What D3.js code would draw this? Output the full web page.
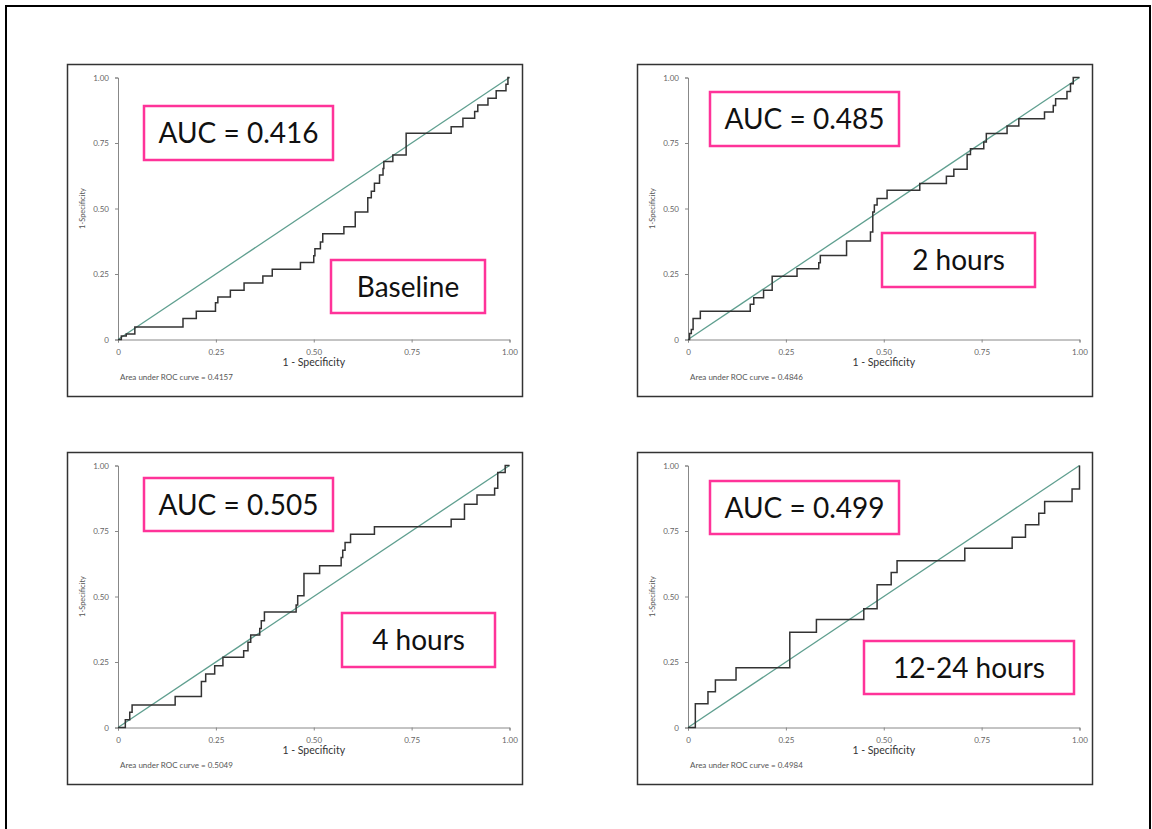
<!DOCTYPE html>
<html>
<head>
<meta charset="utf-8">
<script src="https://cdn.jsdelivr.net/npm/d3@7"></script>
<style>
  body { margin: 0; background: #fff; }
  svg { display: block; font-family: Lato, "Open Sans", sans-serif; }
</style>
</head>
<body>
<div id="chart"></div>
<script>
const W = 1152;
const H = 829;

// panel titles and AUC labels
const periods = ['Baseline', '2 hours', '4 hours', '12-24 hours'];
const aucLabels = ['AUC = 0.416', 'AUC = 0.485', 'AUC = 0.505', 'AUC = 0.499'];
const aucFooter = ['0.4157', '0.4846', '0.5049', '0.4984'];
const ticks = [0, 0.25, 0.5, 0.75, 1];
const tickLabels = ['0', '0.25', '0.50', '0.75', '1.00'];

// ROC step corners, x = 1 - specificity
const fprBaseline = [0, 0.0085, 0.021, 0.043, 0.166, 0.2, 0.249, 0.255, 0.287, 0.322, 0.37, 0.394, 0.466, 0.5, 0.503, 0.517, 0.523, 0.577, 0.606, 0.638, 0.647, 0.655, 0.668, 0.677, 0.679, 0.702, 0.736, 0.851, 0.881, 0.911, 0.919, 0.945, 0.966, 0.991, 0.996, 1];
const tprBaseline = [0, 0.013, 0.021, 0.048, 0.08, 0.108, 0.14, 0.162, 0.188, 0.216, 0.242, 0.268, 0.294, 0.32, 0.346, 0.372, 0.404, 0.43, 0.487, 0.541, 0.566, 0.596, 0.628, 0.653, 0.679, 0.704, 0.787, 0.8125, 0.844, 0.87, 0.895, 0.921, 0.949, 0.974, 1, 1];

const fpr2h = [0, 0.004, 0.0085, 0.013, 0.0315, 0.159, 0.168, 0.193, 0.215, 0.2785, 0.334, 0.338, 0.405, 0.466, 0.472, 0.476, 0.483, 0.5085, 0.592, 0.66, 0.679, 0.713, 0.7215, 0.7555, 0.762, 0.815, 0.845, 0.9106, 0.933, 0.939, 0.968, 0.977, 0.984, 1];
const tpr2h = [0, 0.023, 0.038, 0.08, 0.108, 0.1345, 0.159, 0.188, 0.241, 0.27, 0.293, 0.321, 0.376, 0.41, 0.487, 0.513, 0.538, 0.57, 0.595, 0.623, 0.65, 0.706, 0.728, 0.754, 0.786, 0.815, 0.843, 0.868, 0.893, 0.919, 0.947, 0.976, 1, 1];

const fpr4h = [0, 0.0187, 0.03, 0.036, 0.146, 0.213, 0.224, 0.247, 0.268, 0.321, 0.332, 0.339, 0.362, 0.366, 0.374, 0.455, 0.459, 0.475, 0.515, 0.57, 0.574, 0.58, 0.594, 0.655, 0.851, 0.885, 0.917, 0.962, 0.97, 0.989, 1];
const tpr4h = [0, 0.03, 0.058, 0.086, 0.118, 0.176, 0.204, 0.236, 0.268, 0.293, 0.325, 0.353, 0.378, 0.407, 0.441, 0.468, 0.503, 0.588, 0.617, 0.649, 0.677, 0.706, 0.738, 0.766, 0.795, 0.852, 0.887, 0.913, 0.973, 1, 1];

const fpr24h = [0, 0.0187, 0.051, 0.07, 0.1227, 0.26, 0.328, 0.449, 0.483, 0.519, 0.534, 0.707, 0.828, 0.862, 0.896, 0.911, 0.981, 1];
const tpr24h = [0, 0.091, 0.136, 0.181, 0.228, 0.364, 0.412, 0.453, 0.545, 0.592, 0.636, 0.684, 0.726, 0.774, 0.818, 0.863, 0.91, 1];

const fprs = [fprBaseline, fpr2h, fpr4h, fpr24h];
const tprs = [tprBaseline, tpr2h, tpr4h, tpr24h];

// layout of each panel: frame origin, AUC box, period box
const panels = [
  { x: 67, y: 64, auc: [144, 106, 189, 54], tag: [331, 260, 154, 53] },
  { x: 637, y: 64, auc: [710, 92, 189, 54], tag: [882, 233, 153, 54] },
  { x: 67, y: 452, auc: [144, 478, 189, 53], tag: [342, 613, 153, 54] },
  { x: 637, y: 452, auc: [710, 481, 189, 53], tag: [864, 641, 210, 53] }
];

const boxW = 455, boxH = 332;
const plotL = 51, plotT = 13.5, plotW = 391.5, plotH = 262;
const pink = '#ff3399';

const svg = d3.select('#chart')
  .append('svg')
  .attr('width', W)
  .attr('height', H);

// page frame
svg.append('rect')
  .attr('x', 6).attr('y', 6)
  .attr('width', 1144).attr('height', 840)
  .attr('fill', 'none')
  .attr('stroke', '#000')
  .attr('stroke-width', 2);

panels.forEach((p, i) => {
  const g = svg.append('g').attr('transform', `translate(${p.x},${p.y})`);

  g.append('rect')
    .attr('x', 0.5).attr('y', 0.5)
    .attr('width', boxW).attr('height', boxH)
    .attr('fill', '#fff')
    .attr('stroke', '#333')
    .attr('stroke-width', 1.5);

  const x = d3.scaleLinear().domain([0, 1]).range([plotL, plotL + plotW]);
  const y = d3.scaleLinear().domain([0, 1]).range([plotT + plotH, plotT]);

  const xAxis = g.append('g')
    .attr('transform', `translate(0,${plotT + plotH})`)
    .call(d3.axisBottom(x).tickValues(ticks).tickFormat((d, j) => tickLabels[j]).tickSize(3).tickPadding(7));

  const yAxis = g.append('g')
    .attr('transform', `translate(${plotL},0)`)
    .call(d3.axisLeft(y).tickValues(ticks).tickFormat((d, j) => tickLabels[j]).tickSize(3).tickPadding(6));

  [xAxis, yAxis].forEach(a => {
    a.select('.domain').attr('stroke', '#888');
    a.selectAll('.tick line').attr('stroke', '#888');
    a.selectAll('.tick text')
      .attr('fill', '#666')
      .style('font-family', 'Lato, sans-serif')
      .style('font-size', '8px');
  });

  // reference diagonal
  g.append('line')
    .attr('x1', x(0)).attr('y1', y(0))
    .attr('x2', x(1)).attr('y2', y(1))
    .attr('stroke', '#5f9f8f')
    .attr('stroke-width', 1.3);

  const pts = fprs[i].map((f, j) => [f, tprs[i][j]]);
  const line = d3.line()
    .x(d => x(d[0]))
    .y(d => y(d[1]))
    .curve(d3.curveStepAfter);

  g.append('path')
    .datum(pts)
    .attr('d', line)
    .attr('fill', 'none')
    .attr('stroke', '#333')
    .attr('stroke-width', 1.5);

  g.append('text')
    .attr('x', x(0.5))
    .attr('y', plotT + plotH + 26)
    .attr('text-anchor', 'middle')
    .attr('fill', '#333')
    .style('font-size', '10.5px')
    .text('1 - Specificity');

  g.append('text')
    .attr('transform', `translate(${plotL - 33},${y(0.5)}) rotate(-90)`)
    .attr('text-anchor', 'middle')
    .attr('fill', '#555')
    .style('font-size', '7.5px')
    .text('1-Specificity');

  g.append('text')
    .attr('x', plotL + 2)
    .attr('y', plotT + plotH + 40)
    .attr('fill', '#555')
    .style('font-size', '8px')
    .text('Area under ROC curve = ' + aucFooter[i]);

  // pink callouts
  [[p.auc, aucLabels[i]], [p.tag, periods[i]]].forEach(([b, t]) => {
    svg.append('rect')
      .attr('x', b[0]).attr('y', b[1])
      .attr('width', b[2]).attr('height', b[3])
      .attr('fill', '#fff')
      .attr('stroke', pink)
      .attr('stroke-width', 2.5);

    svg.append('text')
      .attr('x', b[0] + b[2] / 2)
      .attr('y', b[1] + b[3] / 2 + 10)
      .attr('text-anchor', 'middle')
      .attr('fill', '#111')
      .style('font-size', '28px')
      .text(t);
  });
});
</script>
</body>
</html>
